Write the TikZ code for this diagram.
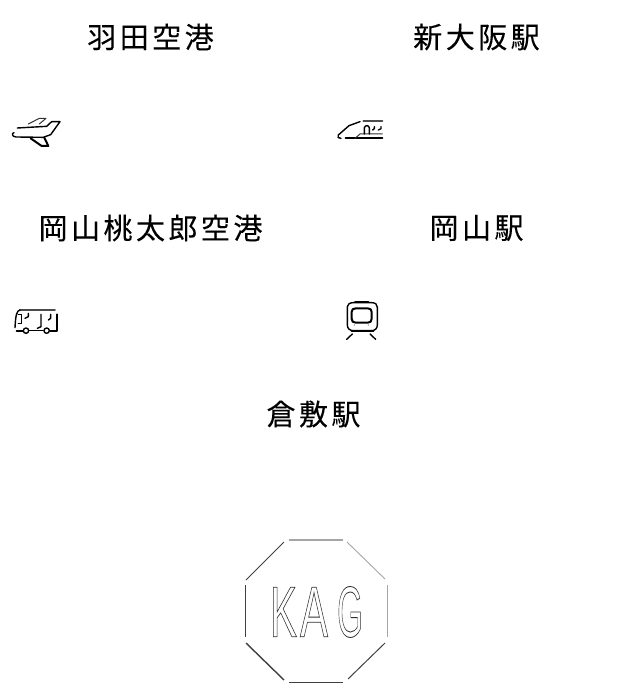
\documentclass[tikz,border=0pt]{standalone}
\usepackage{fontspec}
\usepackage{graphicx}
\setmainfont{Liberation Sans}
\newfontfamily\jpfont[LetterSpace=12,FakeBold=0.15]{Noto Sans CJK JP}
\newfontfamily\logofont{Liberation Sans}
\tikzset{
  label/.style={font=\jpfont\fontsize{29}{32}\selectfont,text=black,inner sep=0pt,anchor=center},
  logoletter/.style={inner sep=0pt,anchor=center},
  ico/.style={draw=black,line width=1.4pt,line cap=round,line join=round,fill=none},
  icothin/.style={draw=black!80,line width=1pt,line cap=round,line join=round,fill=none},
  icothick/.style={draw=black,line width=2pt,line cap=round,line join=round,fill=none},
  octdark/.style={draw=black!75,line width=1pt},
  octlight/.style={draw=black!35,line width=.9pt}
}
\newcommand{\outlined}[1]{\special{pdf:code q 1 Tr 0.85 w 0.2 0.18 0.18 RG}#1\special{pdf:code Q}}
\begin{document}
\begin{tikzpicture}[x=1pt,y=-1pt]
\useasboundingbox (0,0) rectangle (632,700);
\node[label] (haneda) at (150.5,37) {羽田空港};
\node[label] (shinosaka) at (476.5,37) {新大阪駅};
\node[label] (okaport) at (150.5,228) {岡山桃太郎空港};
\node[label] (okasta) at (476.5,228) {岡山駅};
\node[label] (kurashiki) at (313.5,414) {倉敷駅};
% plane
\begin{scope}[shift={(0,100)},x=.3333pt,y=-.3333pt]
\draw[icothin] (85,72)--(118,55)--(138,55)--(118,72);
\draw[ico] (52,84)--(140,79)--(155,65)--(180,65)--(152,104)--(130,112)--(48,111)
  .. controls (36,110) and (34,100) .. (42,98);
\draw[icothick] (92,115)--(125,138)--(145,138)--(133,113);
\end{scope}
% shinkansen
\begin{scope}[shift={(325,105)},x=.3333pt,y=-.3333pt]
\draw[ico] (105,50)--(72,62)--(40,90) .. controls (36,97) and (40,100) .. (48,100);
\draw[icothick,draw=black!70] (115,47)--(172,47);
\draw[icothick] (62,100)--(172,100);
\draw[icothin] (90,100)--(105,87)--(172,87);
\draw[ico] (118,87)--(118,68) .. controls (120,60) and (131,60) .. (133,68)--(133,87);
\draw[ico] (148,65)--(148,71)--(143,75);
\draw[ico] (168,65)--(168,71)--(160,75);
\end{scope}
% bus
\begin{scope}[shift={(0,295)},x=.3333pt,y=-.3333pt]
\draw[icothick,draw=black!70] (60,45)--(165,45);
\draw[ico] (60,45) .. controls (50,47) and (47,60) .. (45,98);
\draw[icothick] (170,58)--(170,108)--(150,108);
\draw[icothick] (50,107)--(68,107);
\draw[ico] (78,107) circle (8);
\draw[ico] (140,107) circle (8);
\draw[ico] (88,107)--(130,107);
\draw[ico] (55,58)--(65,58)--(65,85)--(55,85);
\draw[ico] (85,55)--(85,65)--(75,70);
\draw[ico] (123,58)--(123,95)--(112,100);
\draw[ico] (152,58)--(152,70)--(145,75);
\end{scope}
% local train
\begin{scope}[shift={(335,290)},x=.3333pt,y=-.3333pt]
\draw[ico] (37,50) .. controls (37,42) and (45,38) .. (55,38)--(110,38) .. controls (122,38) and (127,44) .. (127,52)
  --(127,105) .. controls (127,115) and (120,122) .. (110,122)--(55,122) .. controls (44,122) and (37,115) .. (37,105)--cycle;
\draw[icothick] (60,36)--(100,36);
\draw[icothick] (50,122)--(115,122);
\draw[icothick] (62,55)--(98,55) .. controls (106,55) and (110,59) .. (110,66)--(110,86) .. controls (110,94) and (106,98) .. (98,98)
  --(62,98) .. controls (54,98) and (50,94) .. (50,86)--(50,66) .. controls (50,59) and (54,55) .. (62,55)--cycle;
\fill[black!60] (58,105) circle (1.8) (100,105) circle (1.8);
\draw[ico] (52,132)--(35,148);
\draw[ico] (105,132)--(122,148);
\end{scope}
% octagon
\draw[octlight,line width=1.3pt] (289,540)--(343,540);
\draw[octlight] (347,542)--(385,579);
\draw[octlight] (387,585)--(387,637);
\draw[octdark] (385,643)--(348,679);
\draw[octdark] (289,682)--(343,682);
\draw[octdark,line width=1.4pt] (246,643)--(284,680);
\draw[octdark] (245,585)--(245,637);
\draw[octdark] (246,580)--(284,542);
% KAG
\node[logoletter] (letterk) at (283.5,612) {\scalebox{.58}[1.03]{\outlined{\logofont\fontsize{70}{70}\selectfont K}}};
\node[logoletter] (lettera) at (314,612) {\scalebox{.6}[1.03]{\outlined{\logofont\fontsize{70}{70}\selectfont A}}};
\node[logoletter] (letterg) at (350,612) {\scalebox{.47}[1.03]{\outlined{\logofont\fontsize{70}{70}\selectfont G}}};
\end{tikzpicture}
\end{document}
